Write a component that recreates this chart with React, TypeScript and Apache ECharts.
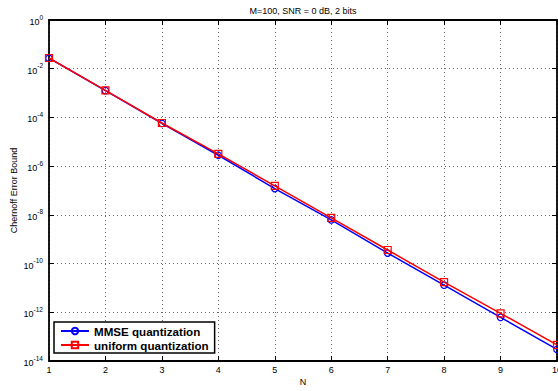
import React, { useEffect, useRef } from 'react';
import * as echarts from 'echarts';

const nValues = [1, 2, 3, 4, 5, 6, 7, 8, 9, 10];
const mmseBound = [2.7e-2, 1.26e-3, 5.7e-5, 2.8e-6, 1.2e-7, 6.2e-9, 2.7e-10, 1.3e-11, 6.2e-13, 3.0e-14];
const uniformBound = [2.75e-2, 1.29e-3, 5.9e-5, 3.2e-6, 1.55e-7, 7.5e-9, 3.6e-10, 1.74e-11, 9.1e-13, 4.6e-14];
const titleText = 'M=100, SNR = 0 dB, 2 bits';
const xName = 'N';
const yName = 'Chernoff Error Bound';
const seriesNames = ['MMSE quantization', 'uniform quantization'];

const FONT = '"Liberation Sans", Arial, Helvetica, sans-serif';

export default function App() {
  const ref = useRef<HTMLDivElement>(null);
  useEffect(() => {
    if (!ref.current) return;
    const chart = echarts.init(ref.current, undefined, { renderer: 'svg' });
    const gridLine = { show: true, lineStyle: { color: '#666', width: 1, type: [1, 3] as any } };
    const axisLine = { show: true, onZero: false, lineStyle: { color: '#000', width: 1.8 } };
    const tick = { show: true, inside: true, length: 5, lineStyle: { color: '#000', width: 1 } };
    chart.setOption({
      animation: false,
      backgroundColor: '#fff',
      title: {
        text: titleText,
        left: 303,
        top: 6,
        padding: 0,
        textAlign: 'center',
        textStyle: { fontSize: 9, fontWeight: 'normal', fontFamily: FONT, color: '#000' },
      },
      grid: { left: 49, right: 1, top: 20, bottom: 30, containLabel: false, outerBoundsMode: 'none' },
      legend: {
        orient: 'vertical',
        left: 54,
        top: 322,
        backgroundColor: '#fff',
        borderColor: '#000',
        borderWidth: 1.5,
        borderRadius: 0,
        padding: [3, 6, 2, 6],
        itemGap: 2,
        itemWidth: 28,
        itemHeight: 8,
        textStyle: { fontSize: 11.6, fontWeight: 'bold', fontFamily: FONT, color: '#000' },
        data: seriesNames,
      },
      xAxis: [
        {
          type: 'value',
          min: 1,
          max: 10,
          interval: 1,
          name: xName,
          nameLocation: 'middle',
          nameGap: 16,
          nameMoveOverlap: false,
          nameTextStyle: { fontSize: 9, fontFamily: FONT, color: '#000' },
          axisLine,
          axisTick: tick,
          splitLine: gridLine,
          axisLabel: { fontSize: 9, fontFamily: FONT, color: '#000', margin: 4, hideOverlap: false },
        },
        {
          type: 'value',
          position: 'top',
          min: 1,
          max: 10,
          interval: 1,
          axisLine,
          axisTick: tick,
          splitLine: { show: false },
          axisLabel: { show: false },
        },
      ],
      yAxis: [
        {
          type: 'log',
          logBase: 10,
          min: 1e-14,
          max: 1,
          interval: 2,
          name: yName,
          nameLocation: 'middle',
          nameRotate: 90,
          nameGap: 31,
          nameMoveOverlap: false,
          nameTextStyle: { fontSize: 9, fontFamily: FONT, color: '#000' },
          axisLine,
          axisTick: tick,
          splitLine: gridLine,
          axisLabel: {
            margin: 6,
            formatter: (v: number) => {
              const e = Math.round(Math.log10(v));
              return `{b|10}{s|${e}}`;
            },
            rich: {
              b: { fontSize: 9, fontFamily: FONT, color: '#000', lineHeight: 13, verticalAlign: 'bottom' },
              s: { fontSize: 6.5, fontFamily: FONT, color: '#000', lineHeight: 13, verticalAlign: 'top' },
            },
          },
        },
        {
          type: 'log',
          logBase: 10,
          position: 'right',
          min: 1e-14,
          max: 1,
          interval: 2,
          axisLine,
          axisTick: tick,
          splitLine: { show: false },
          axisLabel: { show: false },
        },
      ],
      series: [
        {
          name: seriesNames[0],
          type: 'line',
          data: nValues.map((n, i) => [n, mmseBound[i]]),
          symbol: 'circle',
          symbolSize: 6.5,
          showAllSymbol: true,
          lineStyle: { color: '#0000ff', width: 1.5 },
          itemStyle: { color: 'rgba(0,0,0,0)', borderColor: '#0000ff', borderWidth: 1.2 },
          z: 2,
        },
        {
          name: seriesNames[1],
          type: 'line',
          data: nValues.map((n, i) => [n, uniformBound[i]]),
          symbol: 'rect',
          symbolSize: 7,
          showAllSymbol: true,
          lineStyle: { color: '#ff0000', width: 1.5 },
          itemStyle: { color: 'rgba(0,0,0,0)', borderColor: '#ff0000', borderWidth: 1.2 },
          z: 3,
        },
      ],
    });
    return () => chart.dispose();
  }, []);
  return <div ref={ref} style={{ width: 558, height: 391, position: 'absolute', left: 0, top: 0 }} />;
}
